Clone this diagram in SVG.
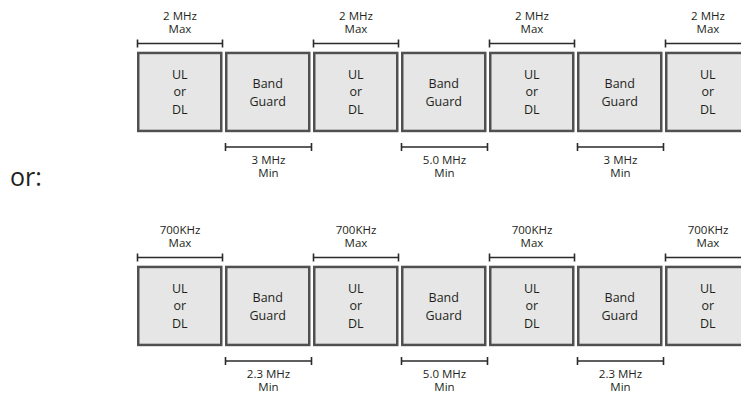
<svg xmlns="http://www.w3.org/2000/svg" width="741" height="396" viewBox="0 0 741 396">
<style>
.box{fill:#e6e6e6;stroke:#505050;stroke-width:2.5}
.bt{font-family:"Open Sans","Noto Sans",sans-serif;font-size:12.5px;fill:#231f20;text-anchor:middle}
.lb{font-family:"Open Sans","Noto Sans",sans-serif;font-size:11.5px;fill:#231f20;text-anchor:middle}
.dim{stroke:#2b2b2b;stroke-width:1.6;fill:none}
.or{font-family:"Open Sans","Noto Sans",sans-serif;font-size:25px;fill:#231f20}
</style>
<rect width="741" height="396" fill="#ffffff"/>
<defs>
<g id="ul"><rect class="box" x="1.25" y="1.25" width="83" height="78"/><text class="bt" x="42.75" y="27.3">UL</text><text class="bt" x="42.75" y="44.8">or</text><text class="bt" x="42.75" y="62.3">DL</text></g>
<g id="bg"><rect class="box" x="1.25" y="1.25" width="83" height="78"/><text class="bt" x="42.75" y="36">Band</text><text class="bt" x="42.75" y="54">Guard</text></g>
</defs>
<!-- top diagram -->
<g id="top">
<g id="t-box0"><use href="#ul" x="137" y="51.7"/></g>
<g id="t-box1"><use href="#bg" x="225" y="51.7"/></g>
<g id="t-box2"><use href="#ul" x="313" y="51.7"/></g>
<g id="t-box3"><use href="#bg" x="401" y="51.7"/></g>
<g id="t-box4"><use href="#ul" x="489" y="51.7"/></g>
<g id="t-box5"><use href="#bg" x="577" y="51.7"/></g>
<g id="t-box6"><use href="#ul" x="665" y="51.7"/></g>
<g id="t-dims">
<path class="dim" d="M137.5,43.5H222.5M137.5,39.5V47.5M222.5,39.5V47.5"/>
<path class="dim" d="M313.5,43.5H398.5M313.5,39.5V47.5M398.5,39.5V47.5"/>
<path class="dim" d="M489.5,43.5H574.5M489.5,39.5V47.5M574.5,39.5V47.5"/>
<path class="dim" d="M665.5,43.5H745M665.5,39.5V47.5"/>
<path class="dim" d="M225.5,147H311.5M225.5,143V151M311.5,143V151"/>
<path class="dim" d="M401.5,147H487.5M401.5,143V151M487.5,143V151"/>
<path class="dim" d="M577.5,147H663.5M577.5,143V151M663.5,143V151"/>
</g>
<g id="t-labels">
<text class="lb" x="180" y="19.5">2 MHz</text><text class="lb" x="180" y="33">Max</text>
<text class="lb" x="356" y="19.5">2 MHz</text><text class="lb" x="356" y="33">Max</text>
<text class="lb" x="532" y="19.5">2 MHz</text><text class="lb" x="532" y="33">Max</text>
<text class="lb" x="708" y="19.5">2 MHz</text><text class="lb" x="708" y="33">Max</text>
<text class="lb" x="268.5" y="163.5">3 MHz</text><text class="lb" x="268.5" y="177">Min</text>
<text class="lb" x="444.5" y="163.5">5.0 MHz</text><text class="lb" x="444.5" y="177">Min</text>
<text class="lb" x="620.5" y="163.5">3 MHz</text><text class="lb" x="620.5" y="177">Min</text>
</g>
</g>
<text id="or-label" class="or" x="10" y="186">or:</text>
<!-- bottom diagram -->
<g id="bottom" transform="translate(0,214)">
<g id="b-box0"><use href="#ul" x="137" y="51.7"/></g>
<g id="b-box1"><use href="#bg" x="225" y="51.7"/></g>
<g id="b-box2"><use href="#ul" x="313" y="51.7"/></g>
<g id="b-box3"><use href="#bg" x="401" y="51.7"/></g>
<g id="b-box4"><use href="#ul" x="489" y="51.7"/></g>
<g id="b-box5"><use href="#bg" x="577" y="51.7"/></g>
<g id="b-box6"><use href="#ul" x="665" y="51.7"/></g>
<g id="b-dims">
<path class="dim" d="M137.5,43.5H222.5M137.5,39.5V47.5M222.5,39.5V47.5"/>
<path class="dim" d="M313.5,43.5H398.5M313.5,39.5V47.5M398.5,39.5V47.5"/>
<path class="dim" d="M489.5,43.5H574.5M489.5,39.5V47.5M574.5,39.5V47.5"/>
<path class="dim" d="M665.5,43.5H745M665.5,39.5V47.5"/>
<path class="dim" d="M225.5,147H311.5M225.5,143V151M311.5,143V151"/>
<path class="dim" d="M401.5,147H487.5M401.5,143V151M487.5,143V151"/>
<path class="dim" d="M577.5,147H663.5M577.5,143V151M663.5,143V151"/>
</g>
<g id="b-labels">
<text class="lb" x="180" y="19.5">700KHz</text><text class="lb" x="180" y="33">Max</text>
<text class="lb" x="356" y="19.5">700KHz</text><text class="lb" x="356" y="33">Max</text>
<text class="lb" x="532" y="19.5">700KHz</text><text class="lb" x="532" y="33">Max</text>
<text class="lb" x="708" y="19.5">700KHz</text><text class="lb" x="708" y="33">Max</text>
<text class="lb" x="268.5" y="163.5">2.3 MHz</text><text class="lb" x="268.5" y="177">Min</text>
<text class="lb" x="444.5" y="163.5">5.0 MHz</text><text class="lb" x="444.5" y="177">Min</text>
<text class="lb" x="620.5" y="163.5">2.3 MHz</text><text class="lb" x="620.5" y="177">Min</text>
</g>
</g>
</svg>
